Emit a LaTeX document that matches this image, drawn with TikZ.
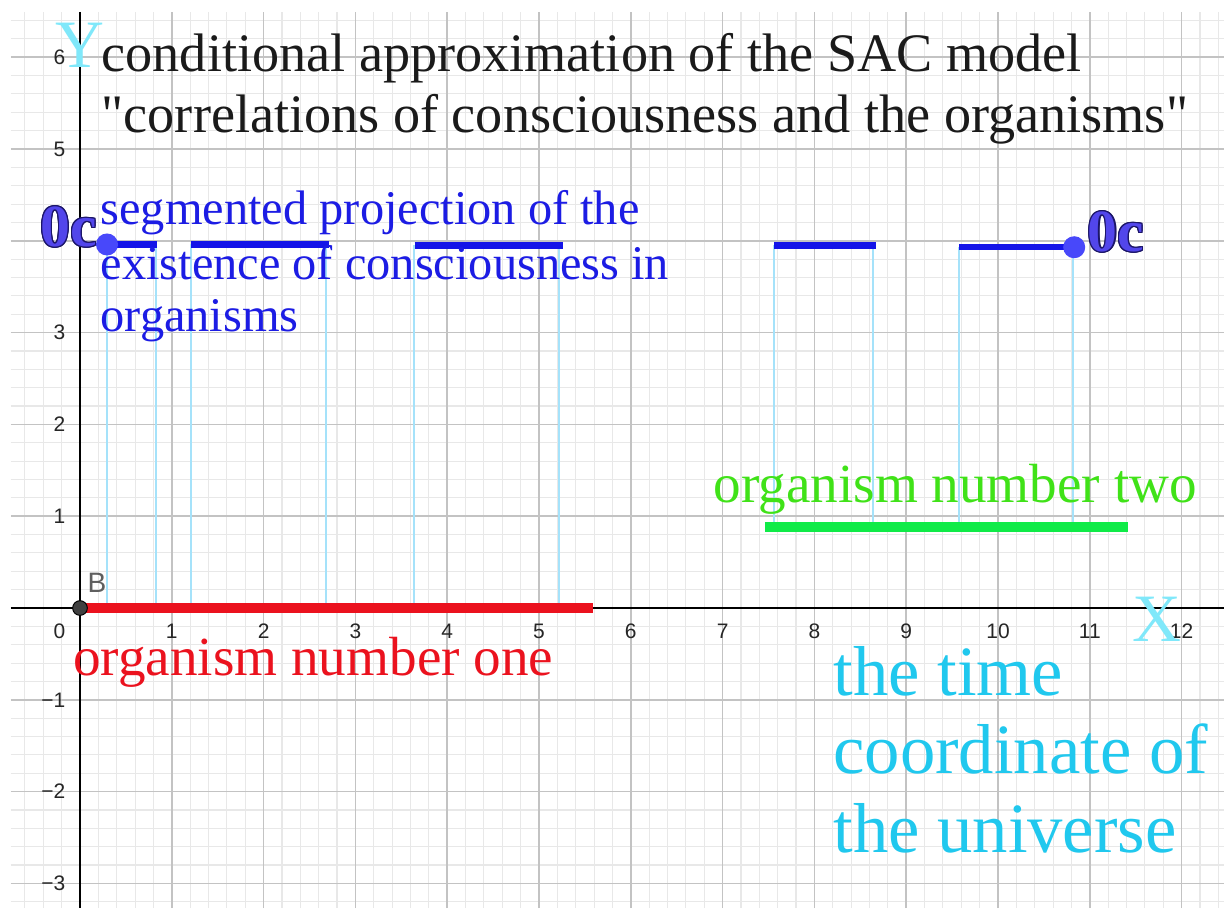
\documentclass[tikz,border=0pt]{standalone}
\usepackage{fontspec}
\setmainfont{Liberation Serif}
\newfontfamily\plainserif{Liberation Serif}
\newfontfamily\axisfont{Liberation Sans}
\definecolor{gridmajor}{RGB}{195,195,195}
\definecolor{gridminor}{RGB}{232,232,232}
\definecolor{segblue}{RGB}{20,20,232}
\definecolor{txtblue}{RGB}{28,28,228}
\definecolor{vline}{RGB}{165,226,250}
\definecolor{orgred}{RGB}{235,18,30}
\definecolor{orggreen}{RGB}{16,235,72}
\definecolor{txtgreen}{RGB}{64,226,24}
\definecolor{timecyan}{RGB}{32,200,238}
\definecolor{axislbl}{RGB}{128,232,250}
\definecolor{ocfill}{RGB}{82,70,235}
\definecolor{ocline}{RGB}{28,22,105}
\definecolor{ptblue}{RGB}{72,72,250}
\definecolor{titlegray}{RGB}{26,26,26}
\definecolor{bgray}{RGB}{95,95,95}
\begin{document}
\begin{tikzpicture}[x=1cm,y=1cm,
  txt/.style={inner sep=0pt, anchor=base west},
  titletxt/.style={txt, text=titlegray, font=\plainserif\fontsize{16.8}{19}\selectfont},
  bluetxt/.style={txt, text=txtblue, font=\fontsize{15}{17}\selectfont},
  orgtxt/.style={txt, font=\fontsize{17.1}{19}\selectfont},
  timetxt/.style={txt, text=timecyan, font=\fontsize{21.9}{24}\selectfont},
  axname/.style={inner sep=0pt, anchor=base, text=axislbl, font=\fontsize{21}{23}\selectfont},
  ticklbl/.style={inner sep=0pt, font=\axisfont\fontsize{6.5}{7}\selectfont, text=black!85},
  ocbase/.style={inner sep=0pt, anchor=base west, font=\bfseries\fontsize{18.5}{20}\selectfont},
  vert/.style={vline, line width=0.7pt},
  segline/.style={segblue, line width=2pt},
  orgline/.style={line width=3.2pt},
  ptdot/.style={circle, fill=ptblue, inner sep=0pt, minimum size=0.24cm},
]
\useasboundingbox (-0.87146,-3.2680) rectangle (12.4619,6.6231);
\fill[white] (-0.87146,-3.2680) rectangle (12.4619,6.6231);
% grid
\draw[gridminor, line width=0.35pt, step=0.2] (-0.752,-3.268) grid (12.4619,6.493);
\draw[gridmajor, line width=0.5pt, step=1] (-0.752,-3.268) grid (12.4619,6.493);
% axes
\coordinate (xl) at (-0.752,0);
\coordinate (xr) at (12.4619,0);
\coordinate (yt) at (0,6.493);
\coordinate (yb) at (0,-3.268);
\draw[black, line width=0.7pt] (xl) -- (xr);
\draw[black, line width=0.7pt] (yt) -- (yb);
% tick labels
\foreach \k in {1,...,12} {
  \node[ticklbl] (xt\k) at (\k,-0.25) {\k};
}
\node[ticklbl, anchor=east] (xt0) at (-0.153,-0.25) {0};
\foreach \k in {1,2,3,5,6} {
  \node[ticklbl, anchor=east] (yt\k) at (-0.153,\k) {\k};
}
\foreach \k in {1,2,3} {
  \node[ticklbl, anchor=east] (ytm\k) at (-0.153,-\k) {−\k};
}
% segment end coordinates
\coordinate (s1a) at (0.294,3.96); \coordinate (s1b) at (0.835,3.96);
\coordinate (s2a) at (1.209,3.96); \coordinate (s2b) at (2.71,3.96);
\coordinate (s3a) at (3.645,3.95); \coordinate (s3b) at (5.26,3.95);
\coordinate (s4a) at (7.56,3.95);  \coordinate (s4b) at (8.67,3.95);
\coordinate (s5a) at (9.575,3.93); \coordinate (s5b) at (10.83,3.93);
% feet of verticals
\coordinate (f1a) at (0.294,0); \coordinate (f1b) at (0.828,0);
\coordinate (f2a) at (1.209,0); \coordinate (f2b) at (2.68,0);
\coordinate (f3a) at (3.638,0); \coordinate (f3b) at (5.218,0);
\coordinate (f4a) at (7.56,0.9); \coordinate (f4b) at (8.638,0.9);
\coordinate (f5a) at (9.575,0.9); \coordinate (f5b) at (10.817,0.9);
% verticals
\draw[vert] (0.294,3.96) -- (f1a);
\draw[vert] (0.828,3.96) -- (f1b);
\draw[vert] (1.209,3.96) -- (f2a);
\draw[vert] (2.68,3.96) -- (f2b);
\draw[vert] (3.638,3.95) -- (f3a);
\draw[vert] (5.218,3.95) -- (f3b);
\draw[vert] (7.56,3.95) -- (f4a);
\draw[vert] (8.638,3.95) -- (f4b);
\draw[vert] (9.575,3.93) -- (f5a);
\draw[vert] (10.817,3.93) -- (f5b);
% organism lines
\coordinate (r0) at (0,0); \coordinate (r1) at (5.59,0);
\coordinate (g0) at (7.46,0.88); \coordinate (g1) at (11.42,0.88);
\draw[orgline, orgred] (r0) -- (r1);
\draw[orgline, orggreen] (g0) -- (g1);
% segments
\draw[segline] (s1a) -- (s1b);
\draw[segline] (s2a) -- (s2b);
\draw[segline] (s3a) -- (s3b);
\draw[segline] (s4a) -- (s4b);
\draw[segline] (s5a) -- (s5b);
% points
\node[ptdot] (pL) at (s1a) {};
\node[ptdot] (pR) at (s5b) {};
\node[circle, fill=black!75, draw=black, line width=0.3pt, inner sep=0pt, minimum size=0.16cm] (B) at (0,0) {};
\node[inner sep=0pt, anchor=base west, text=bgray, font=\axisfont\fontsize{8.7}{10}\selectfont] (Blbl) at (0.076,0.164) {B};
% 0c labels with outline
\foreach \a in {0,30,...,330} {
  \node[ocbase, text=ocline, shift={(\a:0.4pt)}] at (-0.436,3.937) {0c};
  \node[ocbase, text=ocline, shift={(\a:0.4pt)}] at (10.97,3.885) {0c};
}
\node[ocbase, text=ocfill] (ocL) at (-0.436,3.937) {0c};
\node[ocbase, text=ocfill] (ocR) at (10.97,3.885) {0c};
% axis names
\node[axname] (Yname) at (0,5.89) {Y};
\node[axname] (Xname) at (11.73,-0.37) {X};
% title
\node[titletxt] (t1) at (0.229,5.845) {conditional approximation of the SAC model};
\node[titletxt] (t2) at (0.229,5.180) {"correlations of consciousness and the organisms"};
% blue text
\node[bluetxt] (b1) at (0.218,4.177) {segmented projection of the};
\node[bluetxt] (b2) at (0.218,3.577) {existence of consciousness in};
\node[bluetxt] (b3) at (0.218,3.01) {organisms};
% organism labels
\node[orgtxt, text=orgred] (o1) at (-0.08,-0.731) {organism number one};
\node[orgtxt, text=txtgreen] (o2) at (6.895,1.15) {organism number two};
% time coordinate
\node[timetxt] (c1) at (8.20,-0.949) {the time};
\node[timetxt] (c2) at (8.20,-1.80) {coordinate of};
\node[timetxt] (c3) at (8.20,-2.665) {the universe};
\end{tikzpicture}
\end{document}
